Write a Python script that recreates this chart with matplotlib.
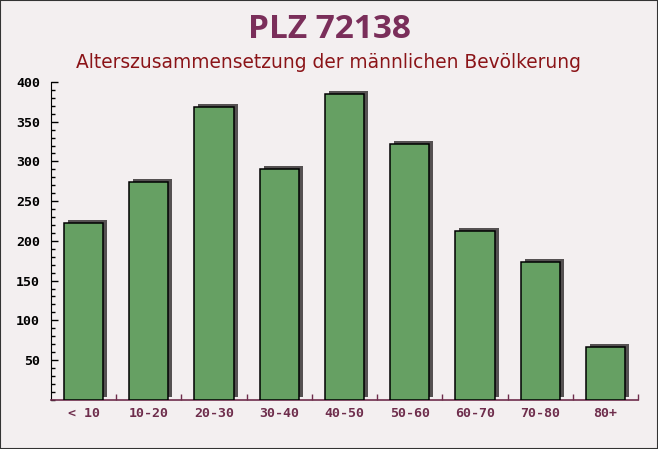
import numpy as np
import matplotlib.pyplot as plt
from matplotlib.patches import Rectangle
from matplotlib.ticker import MultipleLocator, FixedLocator
import matplotlib.transforms as mtransforms

# values
age_groups = ['< 10', '10-20', '20-30', '30-40', '40-50', '50-60', '60-70', '70-80', '80+']
men = [222, 274, 368, 290, 385, 322, 213, 174, 66]
y_ticks = [50, 100, 150, 200, 250, 300, 350, 400]

title = 'PLZ 72138'
subtitle = 'Alterszusammensetzung der männlichen Bevölkerung'

bg = '#f3eff0'
bar_color = '#66a063'
shadow_color = '#555152'
maroon = '#6e2d4c'

fig = plt.figure(figsize=(6.58, 4.49), dpi=100)
fig.patch.set_facecolor(bg)
ax = fig.add_axes([51 / 658, 1 - 399.7 / 449, 587 / 658, 317.7 / 449])
ax.set_facecolor('none')

x = np.arange(len(age_groups))

# drop shadow: same bars shifted a few pixels up and right
shadow = mtransforms.offset_copy(ax.transData, fig=fig, x=4, y=3, units='dots')
ax.bar(x, men, width=0.6, color=shadow_color, transform=shadow, zorder=2)
ax.bar(x, men, width=0.6, color=bar_color, edgecolor='black', linewidth=1.1, zorder=3)

ax.set_xlim(-0.5, len(age_groups) - 0.5)
ax.set_ylim(0, 400)

for side in ['top', 'right']:
    ax.spines[side].set_visible(False)
ax.spines['left'].set_color('black')
ax.spines['bottom'].set_color(maroon)
ax.spines['bottom'].set_linewidth(1.2)

ax.yaxis.set_major_locator(FixedLocator(y_ticks))
ax.yaxis.set_minor_locator(MultipleLocator(10))
ax.tick_params(axis='y', which='major', direction='in', length=5, width=1, colors='black', pad=8)
ax.tick_params(axis='y', which='minor', direction='in', length=3, width=1, colors='black')
for lbl in ax.get_yticklabels():
    lbl.set_family('DejaVu Sans Mono')
    lbl.set_fontweight('bold')
    lbl.set_fontsize(9.5)

ax.set_xticks(x)
ax.set_xticklabels(age_groups, family='DejaVu Sans Mono', fontsize=9.5, color=maroon, fontweight='bold')
ax.tick_params(axis='x', which='major', length=0, pad=5)
ax.xaxis.set_minor_locator(FixedLocator(x + 0.5))
ax.tick_params(axis='x', which='minor', direction='in', length=4, width=1, colors=maroon)

fig.text(0.5, 1 - 30 / 449, title, ha='center', va='center', fontsize=24,
         fontweight='bold', color='#7a2e5a', family='Open Sans')
fig.text(0.5, 1 - 62 / 449, subtitle, ha='center', va='center', fontsize=13.4,
         color='#8b1418', family='DejaVu Sans')

# thin frame round the picture
fig.patches.append(Rectangle((0, 0), 1, 1, transform=fig.transFigure, fill=False,
                             edgecolor='#333333', linewidth=1.5))

plt.savefig('out.png', dpi=100, facecolor=bg)
